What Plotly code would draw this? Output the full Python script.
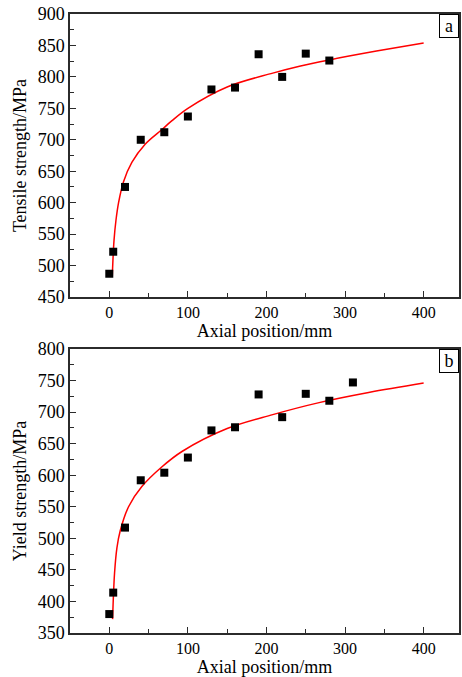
import plotly.graph_objects as go

# ---- data ----
pos_tensile = [0, 5, 20, 40, 70, 100, 130, 160, 190, 220, 250, 280]
tensile = [487, 522, 625, 700, 712, 737, 780, 783, 836, 800, 837, 826]

fit_x_tensile = [3.8, 6, 8.5, 11.8, 18, 28.7, 45.6, 66.7, 79.4, 100, 150, 208, 242, 280, 340, 400]
fit_tensile = [483, 540, 572, 600, 633, 664, 693, 716, 730, 750, 784, 806, 817, 827, 841, 854]

pos_yield = [0, 5, 20, 40, 70, 100, 130, 160, 190, 220, 250, 280, 310]
yield_s = [380, 414, 517, 592, 604, 628, 671, 676, 728, 692, 729, 718, 747]

fit_x_yield = [4.2, 6.7, 9.7, 13.9, 24.5, 41.4, 66.7, 93, 150, 208, 267, 330, 400]
fit_yield = [372, 445, 485, 512, 550, 582, 613, 638, 674, 696, 715, 731, 746]

x_ticks = [0, 100, 200, 300, 400]
y_ticks_a = [450, 500, 550, 600, 650, 700, 750, 800, 850, 900]
y_ticks_b = [350, 400, 450, 500, 550, 600, 650, 700, 750, 800]

FONT = "Liberation Serif"
AX = "#2b2b2b"

fig = go.Figure()
fig.add_trace(go.Scatter(x=fit_x_tensile, y=fit_tensile, mode="lines", line=dict(color="#ff0000", width=1.5, shape="spline", smoothing=1.0), xaxis="x", yaxis="y", showlegend=False))
fig.add_trace(go.Scatter(x=pos_tensile, y=tensile, mode="markers", marker=dict(symbol="square", size=8, color="black"), xaxis="x", yaxis="y", showlegend=False))
fig.add_trace(go.Scatter(x=fit_x_yield, y=fit_yield, mode="lines", line=dict(color="#ff0000", width=1.5, shape="spline", smoothing=1.0), xaxis="x2", yaxis="y2", showlegend=False))
fig.add_trace(go.Scatter(x=pos_yield, y=yield_s, mode="markers", marker=dict(symbol="square", size=8, color="black"), xaxis="x2", yaxis="y2", showlegend=False))

def xax(anchor):
    return dict(range=[-50, 445], tickvals=x_ticks, ticks="inside", ticklen=6, tickwidth=1.3, tickcolor=AX,
                minor=dict(tickvals=[50, 150, 250, 350], ticks="inside", ticklen=4, tickwidth=1.3, tickcolor=AX),
                showline=True, linecolor=AX, linewidth=1.5, mirror=True, showgrid=False, zeroline=False,
                tickfont=dict(family=FONT, size=16, color="black"), anchor=anchor,
                title=dict(text="Axial position/mm", font=dict(family=FONT, size=18, color="black"), standoff=4))

def yax(rng, ticks, title, domain, anchor):
    minor_vals = [v + 25 for v in ticks[:-1]]
    return dict(range=rng, tickvals=ticks, ticks="inside", ticklen=6, tickwidth=1.3, tickcolor=AX,
                minor=dict(tickvals=minor_vals, ticks="inside", ticklen=4, tickwidth=1.3, tickcolor=AX),
                showline=True, linecolor=AX, linewidth=1.5, mirror=True, showgrid=False, zeroline=False,
                tickfont=dict(family=FONT, size=18, color="black"), domain=domain, anchor=anchor,
                title=dict(text=title, font=dict(family=FONT, size=18, color="black"), standoff=6))

fig.update_layout(
    width=462, height=677,
    margin=dict(l=70, r=1, t=14, b=44),
    paper_bgcolor="white", plot_bgcolor="white",
    xaxis=xax("y"),
    yaxis=yax([450, 900], y_ticks_a, "Tensile strength/MPa", [0.5428, 1.0], "x"),
    xaxis2=xax("y2"),
    yaxis2=yax([350, 800], y_ticks_b, "Yield strength/MPa", [0.0, 0.4588], "x2"),
    annotations=[
        dict(text="a", xref="paper", yref="paper", x=1, y=1, xanchor="right", yanchor="top", showarrow=False,
             font=dict(family=FONT, size=18, color="black"), bordercolor="black", borderwidth=1, borderpad=2, width=14, height=18),
        dict(text="b", xref="paper", yref="paper", x=1, y=0.4588, xanchor="right", yanchor="top", showarrow=False,
             font=dict(family=FONT, size=18, color="black"), bordercolor="black", borderwidth=1, borderpad=2, width=14, height=18),
    ],
)

fig.write_html("out.html", config={"displayModeBar": False},
               post_script="document.body.style.margin='0';document.body.style.overflow='hidden';")
